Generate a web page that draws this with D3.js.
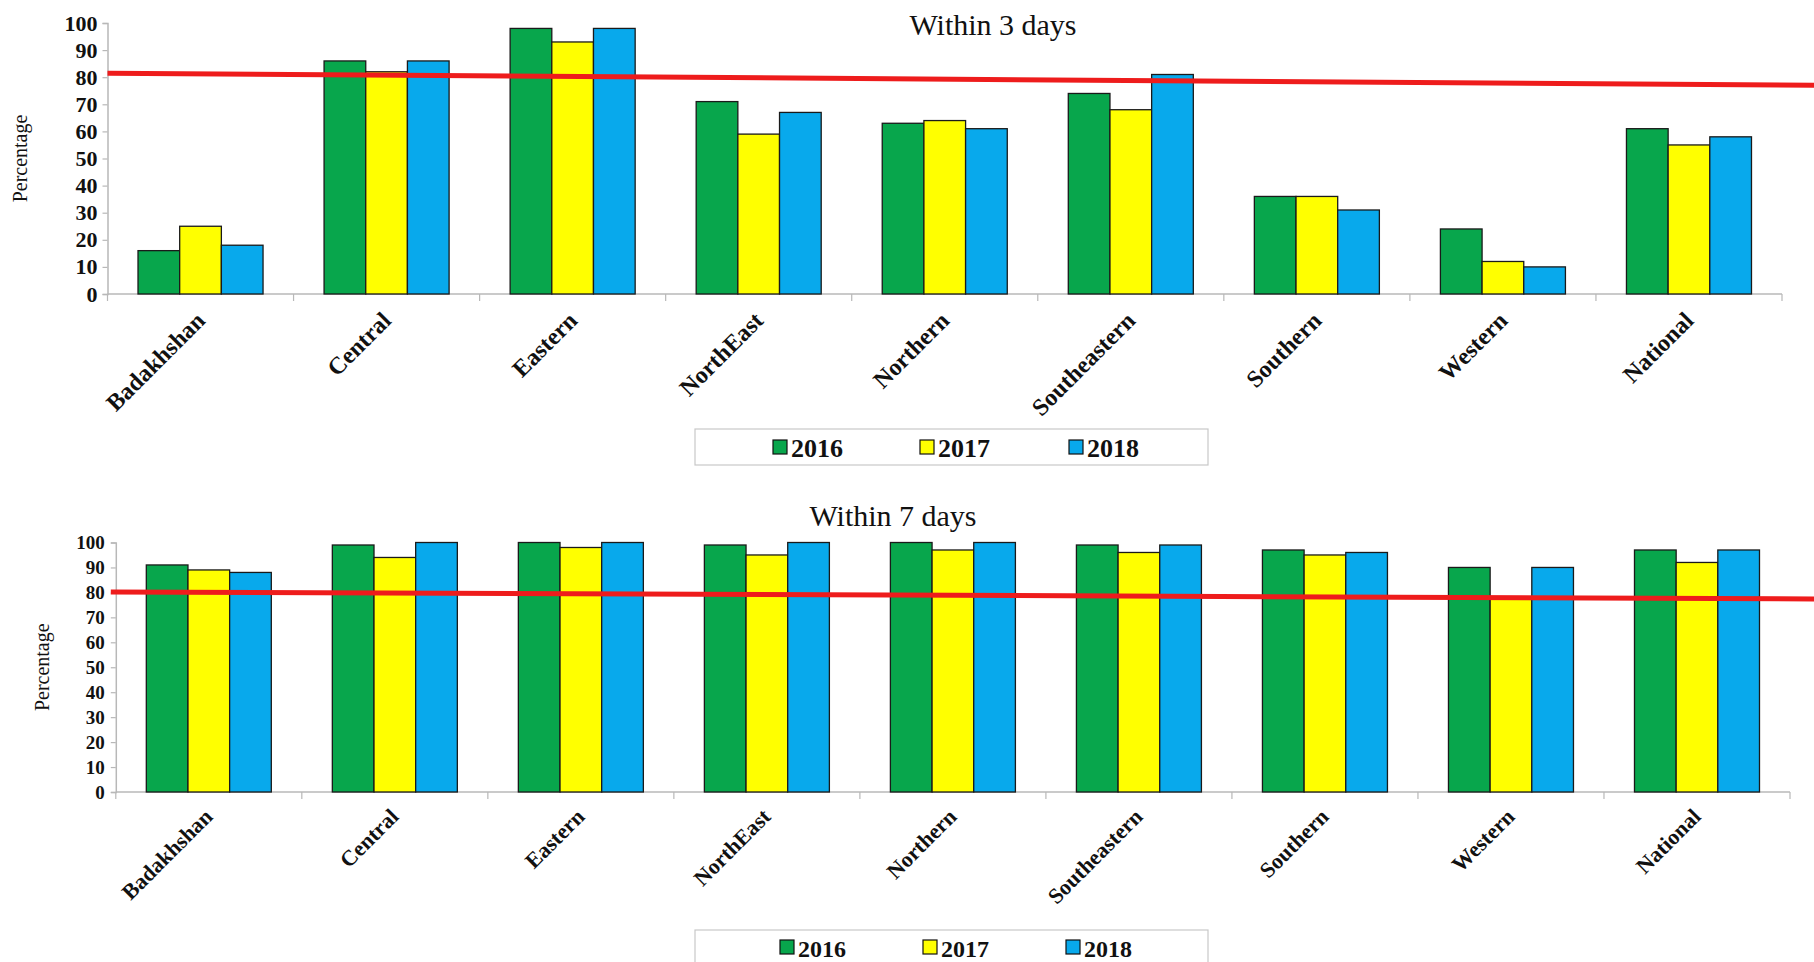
<!DOCTYPE html>
<html>
<head>
<meta charset="utf-8">
<script src="https://cdn.jsdelivr.net/npm/d3@7"></script>
<style>
  html, body { margin: 0; padding: 0; background: #fff; }
  svg { display: block; }
  text { font-family: "Times New Roman", "Liberation Serif", serif; }
</style>
</head>
<body>
<svg id="chart" width="1814" height="962"></svg>
<script>
// ---------------- data ----------------
const categories = ["Badakhshan", "Central", "Eastern", "NorthEast", "Northern",
                    "Southeastern", "Southern", "Western", "National"];
const years = ["2016", "2017", "2018"];
const yearColors = ["#08a64c", "#ffff00", "#08a9ec"];

const within3_2016 = [16, 86, 98, 71, 63, 74, 36, 24, 61];
const within3_2017 = [25, 82, 93, 59, 64, 68, 36, 12, 55];
const within3_2018 = [18, 86, 98, 67, 61, 81, 31, 10, 58];

const within7_2016 = [91, 99, 100, 99, 100, 99, 97, 90, 97];
const within7_2017 = [89, 94, 98, 95, 97, 96, 95, 78, 92];
const within7_2018 = [88, 100, 100, 100, 100, 99, 96, 90, 97];

const yTickValues = [0, 10, 20, 30, 40, 50, 60, 70, 80, 90, 100];
// red reference (trend) line: value at the left edge, value at the right edge
const target3 = [81.5, 77.0];
const target7 = [80.2, 77.4];

const titles = ["Within 3 days", "Within 7 days"];
const yAxisTitle = "Percentage";

// ---------------- drawing ----------------
const svg = d3.select("#chart");
const W = 1814;

function drawPanel(cfg) {
  const g = svg.append("g");
  const x0 = d3.scaleBand().domain(categories).range([cfg.left, cfg.right])
      .paddingInner(0.328).paddingOuter(0.164);
  const x1 = d3.scaleBand().domain(years).range([0, x0.bandwidth()]);
  const y = d3.scaleLinear().domain([0, 100]).range([cfg.bottom, cfg.top]);
  const color = d3.scaleOrdinal().domain(years).range(yearColors);

  // y axis
  const yAxis = d3.axisLeft(y).tickValues(yTickValues).tickSize(5).tickPadding(cfg.tickPad);
  const ya = g.append("g").attr("transform", `translate(${cfg.left},0)`).call(yAxis);
  ya.select(".domain").attr("stroke", "#b8b8b8").attr("stroke-width", 1.5);
  ya.selectAll(".tick line").attr("stroke", "#b8b8b8").attr("stroke-width", 1.2);
  ya.selectAll(".tick text")
    .attr("font-family", '"Times New Roman", "Liberation Serif", serif')
    .attr("font-weight", "bold").attr("font-size", cfg.tickFont).attr("fill", "#111");

  // x axis with ticks at category boundaries
  const xa = g.append("g").attr("transform", `translate(0,${cfg.bottom})`);
  xa.append("line").attr("x1", cfg.left).attr("x2", cfg.right)
    .attr("stroke", "#b8b8b8").attr("stroke-width", 1.5);
  const bounds = categories.map(c => x0(c) - x0.step() * 0.164).concat([cfg.right]);
  xa.selectAll("line.bt").data(bounds).join("line").attr("class", "bt")
    .attr("x1", d => d).attr("x2", d => d).attr("y1", 0).attr("y2", 7)
    .attr("stroke", "#b8b8b8").attr("stroke-width", 1.2);

  // bars
  const groups = g.append("g").selectAll("g").data(categories).join("g")
    .attr("transform", c => `translate(${x0(c)},0)`);
  groups.selectAll("rect")
    .data((c, i) => years.map((yr, k) => ({ yr, v: cfg.series[k][i] })))
    .join("rect")
    .attr("x", d => x1(d.yr)).attr("width", x1.bandwidth())
    .attr("y", d => y(d.v)).attr("height", d => y(0) - y(d.v))
    .attr("fill", d => color(d.yr)).attr("stroke", "#1a1a1a").attr("stroke-width", 1.3);

  // category labels
  g.append("g").selectAll("text").data(categories).join("text")
    .attr("transform", c => `translate(${x0(c) + x0.bandwidth() / 2 + cfg.labDx},${cfg.bottom + cfg.labDy}) rotate(-45)`)
    .attr("text-anchor", "end").attr("font-weight", "bold")
    .attr("font-size", cfg.labFont).attr("fill", "#111").text(c => c);

  // red line
  g.append("line")
    .attr("x1", cfg.left + cfg.redDx).attr("x2", W)
    .attr("y1", y(cfg.target[0])).attr("y2", y(cfg.target[1]))
    .attr("stroke", "#ee1c1c").attr("stroke-width", 5);

  // title
  g.append("text").attr("x", cfg.titleX).attr("y", cfg.titleY)
    .attr("text-anchor", "middle").attr("font-size", 30).attr("fill", "#111")
    .text(cfg.title);

  // y axis title
  g.append("text")
    .attr("transform", `translate(${cfg.yTitleX},${(cfg.top + cfg.bottom) / 2 + cfg.yTitleDy}) rotate(-90)`)
    .attr("text-anchor", "middle").attr("font-size", 20).attr("fill", "#111")
    .text(yAxisTitle);

  // legend
  const lg = g.append("g");
  lg.append("rect").attr("x", cfg.legX).attr("y", cfg.legY)
    .attr("width", cfg.legW).attr("height", cfg.legH)
    .attr("fill", "#fff").attr("stroke", "#c8c8c8").attr("stroke-width", 1.2);
  const items = lg.selectAll("g").data(years).join("g")
    .attr("transform", (d, i) => `translate(${cfg.legItemX[i]},${cfg.legTextY})`);
  items.append("rect").attr("x", 0).attr("y", -cfg.legSq - 3)
    .attr("width", cfg.legSq).attr("height", cfg.legSq)
    .attr("fill", d => color(d)).attr("stroke", "#111").attr("stroke-width", 1.2);
  items.append("text").attr("x", cfg.legSq + 4).attr("y", 0)
    .attr("font-weight", "bold").attr("font-size", cfg.legFont).attr("fill", "#111")
    .text(d => d);
}

drawPanel({
  series: [within3_2016, within3_2017, within3_2018], target: target3,
  left: 107.5, right: 1782, top: 23, bottom: 294,
  tickFont: 22, tickPad: 5, labFont: 24, labDx: 6, labDy: 28, redDx: 0,
  title: titles[0], titleX: 993, titleY: 35,
  yTitleX: 27, yTitleDy: 0,
  legX: 695, legY: 429, legW: 513, legH: 36, legTextY: 457,
  legItemX: [773, 920, 1069], legSq: 14, legFont: 26
});

drawPanel({
  series: [within7_2016, within7_2017, within7_2018], target: target7,
  left: 115.8, right: 1790, top: 542.5, bottom: 792,
  tickFont: 19, tickPad: 6, labFont: 22, labDx: 5, labDy: 26, redDx: -5,
  title: titles[1], titleX: 893, titleY: 526,
  yTitleX: 49, yTitleDy: 0,
  legX: 695, legY: 930, legW: 513, legH: 40, legTextY: 957,
  legItemX: [780, 923, 1066], legSq: 14, legFont: 24
});
</script>
</body>
</html>
